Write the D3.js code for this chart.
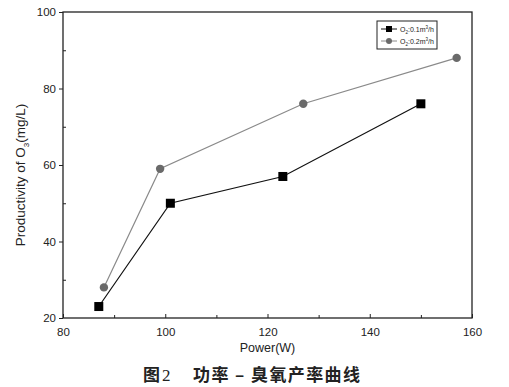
<!DOCTYPE html>
<html>
<head>
<meta charset="utf-8">
<script src="https://cdn.jsdelivr.net/npm/d3@7"></script>
<style>
  body { margin: 0; background: #fff; }
  svg { display: block; }
  text { font-family: "Liberation Sans", Arial, sans-serif; fill: #222; }
</style>
</head>
<body>
<div id="chart"></div>
<script>
const width = 509;
const height = 387;

// data
const power01 = [87, 101, 123, 150];
const prod01 = [23, 50, 57, 76];
const power02 = [88, 99, 127, 157];
const prod02 = [28, 59, 76, 88];
const xTicks = [80, 100, 120, 140, 160];
const yTicks = [20, 40, 60, 80, 100];

const usableArea = { left: 63, right: 472, top: 12, bottom: 318 };

const svg = d3.select("#chart").append("svg")
  .attr("width", width)
  .attr("height", height);

const x = d3.scaleLinear().domain([80, 160]).range([usableArea.left, usableArea.right]);
const y = d3.scaleLinear().domain([20, 100]).range([usableArea.bottom, usableArea.top]);

// frame
svg.append("rect")
  .attr("x", usableArea.left).attr("y", usableArea.top)
  .attr("width", usableArea.right - usableArea.left)
  .attr("height", usableArea.bottom - usableArea.top)
  .attr("fill", "none").attr("stroke", "#222").attr("stroke-width", 1.3);

// x axis: ticks point inward
const xAxis = svg.append("g")
  .attr("transform", `translate(0,${usableArea.bottom})`)
  .call(d3.axisBottom(x).tickValues(xTicks).tickSize(-4).tickPadding(10));
xAxis.select(".domain").remove();
xAxis.selectAll("text").attr("font-size", 11.5).style("font-family", "Liberation Sans, Arial, sans-serif").attr("fill", "#222");
xAxis.selectAll("line").attr("stroke", "#222");
svg.append("g")
  .attr("transform", `translate(0,${usableArea.bottom})`)
  .call(d3.axisBottom(x).tickValues([90, 110, 130, 150]).tickSize(-3).tickFormat(""))
  .call(g => g.select(".domain").remove())
  .selectAll("line").attr("stroke", "#222");

// y axis: major ticks outward, minor inward
const yAxis = svg.append("g")
  .attr("transform", `translate(${usableArea.left},0)`)
  .call(d3.axisLeft(y).tickValues(yTicks).tickSize(4).tickPadding(3));
yAxis.select(".domain").remove();
yAxis.selectAll("text").attr("font-size", 11.5).style("font-family", "Liberation Sans, Arial, sans-serif").attr("fill", "#222");
yAxis.selectAll("line").attr("stroke", "#222");
svg.append("g")
  .attr("transform", `translate(${usableArea.left},0)`)
  .call(d3.axisLeft(y).tickValues([30, 50, 70, 90]).tickSize(-3).tickFormat(""))
  .call(g => g.select(".domain").remove())
  .selectAll("line").attr("stroke", "#222");

// axis titles
svg.append("text")
  .attr("x", (usableArea.left + usableArea.right) / 2)
  .attr("y", 352)
  .attr("text-anchor", "middle")
  .attr("font-size", 12.5)
  .text("Power(W)");

const yt = svg.append("text")
  .attr("transform", "translate(25,175) rotate(-90)")
  .attr("text-anchor", "middle")
  .attr("font-size", 13.5);
yt.append("tspan").text("Productivity of O");
yt.append("tspan").attr("font-size", 8).attr("dy", 4).text("3");
yt.append("tspan").attr("dy", -4).text("(mg/L)");

// series
const s01 = power01.map((p, i) => [p, prod01[i]]);
const s02 = power02.map((p, i) => [p, prod02[i]]);
const line = d3.line().x(d => x(d[0])).y(d => y(d[1]));

svg.append("path").datum(s02).attr("d", line)
  .attr("fill", "none").attr("stroke", "#8a8a8a").attr("stroke-width", 1.2);
svg.append("path").datum(s01).attr("d", line)
  .attr("fill", "none").attr("stroke", "#111").attr("stroke-width", 1.2);

svg.append("g").selectAll("circle").data(s02).join("circle")
  .attr("cx", d => x(d[0])).attr("cy", d => y(d[1])).attr("r", 4.2)
  .attr("fill", "#6a6a6a");
svg.append("g").selectAll("rect").data(s01).join("rect")
  .attr("x", d => x(d[0]) - 4.5).attr("y", d => y(d[1]) - 4.5)
  .attr("width", 9).attr("height", 9)
  .attr("fill", "#000");

// legend
const lg = svg.append("g").attr("transform", "translate(377,21)");
lg.append("rect").attr("width", 60).attr("height", 28)
  .attr("fill", "#fff").attr("stroke", "#222").attr("stroke-width", 1);
const legendItems = [
  { label: "0.1m", color: "#111", shape: "square" },
  { label: "0.2m", color: "#8a8a8a", shape: "circle" }
];
legendItems.forEach((d, i) => {
  const gy = 8 + i * 12;
  lg.append("line").attr("x1", 4).attr("x2", 20).attr("y1", gy).attr("y2", gy)
    .attr("stroke", d.color).attr("stroke-width", 1);
  if (d.shape === "square") {
    lg.append("rect").attr("x", 9).attr("y", gy - 3).attr("width", 6).attr("height", 6).attr("fill", "#000");
  } else {
    lg.append("circle").attr("cx", 12).attr("cy", gy).attr("r", 3).attr("fill", "#6a6a6a");
  }
  const t = lg.append("text").attr("x", 23).attr("y", gy + 2.5).attr("font-size", 7);
  t.append("tspan").text("O");
  t.append("tspan").attr("font-size", 4.5).attr("dy", 2).text("2");
  t.append("tspan").attr("dy", -2).text(":" + d.label);
  t.append("tspan").attr("font-size", 4.5).attr("dy", -3).text("3");
  t.append("tspan").attr("dy", 3).text("/h");
});

// caption
const cap = svg.append("g").attr("fill", "#111");
cap.append("text")
  .attr("x", 143).attr("y", 381)
  .attr("font-size", 17).attr("font-weight", "bold")
  .style("font-family", "'Noto Sans CJK SC', sans-serif")
  .text("图");
cap.append("text")
  .attr("x", 162).attr("y", 381)
  .attr("font-size", 17)
  .style("font-family", "'Liberation Serif', serif")
  .text("2");
cap.append("text")
  .attr("x", 193).attr("y", 381)
  .attr("textLength", 167)
  .attr("font-size", 17).attr("font-weight", "bold")
  .style("font-family", "'Noto Sans CJK SC', sans-serif")
  .text("功率 – 臭氧产率曲线");
</script>
</body>
</html>
